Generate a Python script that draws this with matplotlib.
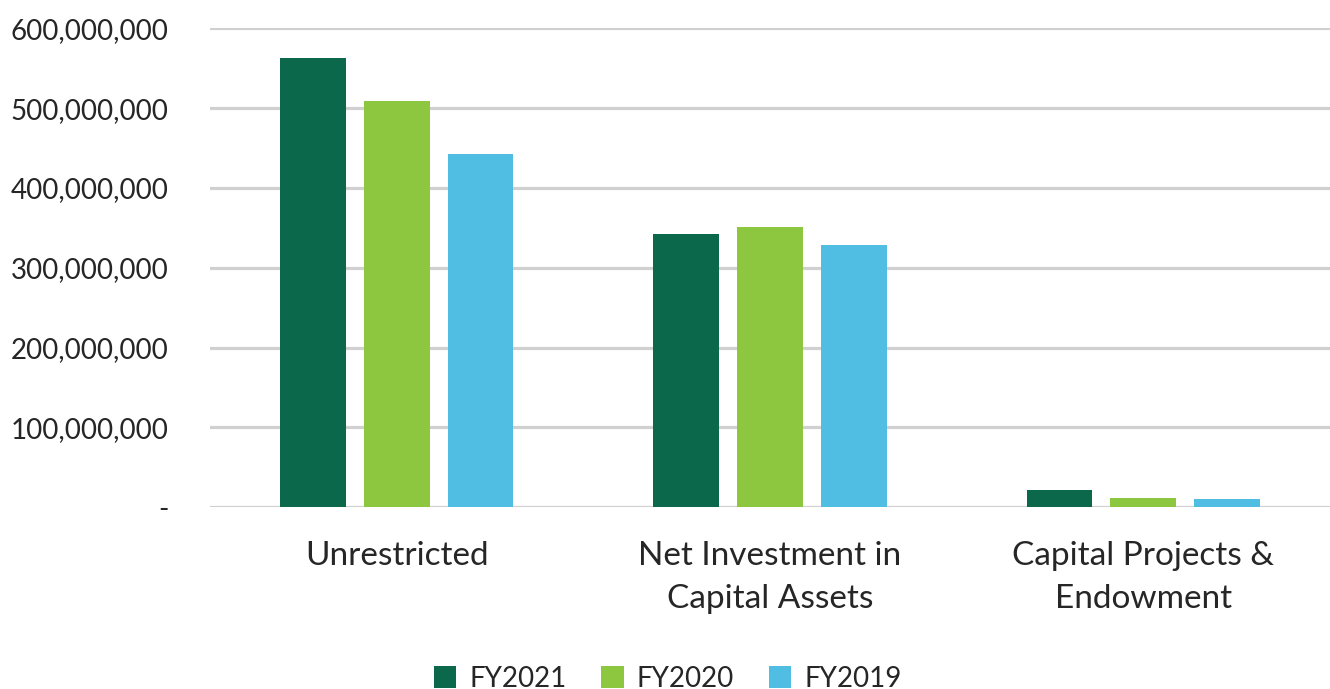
import matplotlib
matplotlib.use("Agg")
import matplotlib.pyplot as plt
import numpy as np
from matplotlib.ticker import FuncFormatter

categories = ["Unrestricted", "Net Investment in\nCapital Assets", "Capital Projects &\nEndowment"]
series_names = ["FY2021", "FY2020", "FY2019"]
fy2021 = [562_800_000, 342_400_000, 21_700_000]
fy2020 = [509_000_000, 351_100_000, 11_700_000]
fy2019 = [442_600_000, 328_500_000, 10_400_000]
colors = ["#0B684A", "#8DC63F", "#50BEE3"]
yticks = [0, 100_000_000, 200_000_000, 300_000_000, 400_000_000, 500_000_000, 600_000_000]

plt.rcParams['font.family'] = ['Lato', 'DejaVu Sans']
text_color = "#262626"

fig = plt.figure(figsize=(13.30, 6.89), dpi=100)
ax = fig.add_axes([0.1579, 0.2637, 0.8421, 0.6952])

x = np.arange(len(categories))
w = 0.1765
step = 0.2245
for i, (vals, name, c) in enumerate(zip([fy2021, fy2020, fy2019], series_names, colors)):
    ax.bar(x + (i - 1) * step, vals, width=w, color=c, label=name, zorder=3)

ax.set_xlim(-0.5, 2.5)
ax.set_ylim(0, 600_000_000)
ax.set_yticks(yticks)
ax.yaxis.set_major_formatter(FuncFormatter(lambda v, p: "-" if v == 0 else f"{int(v):,}"))
ax.grid(axis="y", color="#D0D0D0", linewidth=2.3, zorder=0)
ax.set_axisbelow(True)
for s in ax.spines.values():
    s.set_visible(False)
ax.tick_params(axis="y", length=0, pad=30, labelsize=20, labelcolor=text_color)
ax.tick_params(axis="x", length=0, pad=24, labelsize=24, labelcolor=text_color)
ax.set_xticks(x)
ax.set_xticklabels(categories, linespacing=1.57)

leg = fig.legend(loc="lower center", ncol=3, frameon=False, fontsize=20,
                 bbox_to_anchor=(0.502, -0.04), handlelength=0.8, handleheight=0.8,
                 columnspacing=1.26, handletextpad=0.47)
for t in leg.get_texts():
    t.set_color(text_color)

fig.savefig("out.png", dpi=100)
